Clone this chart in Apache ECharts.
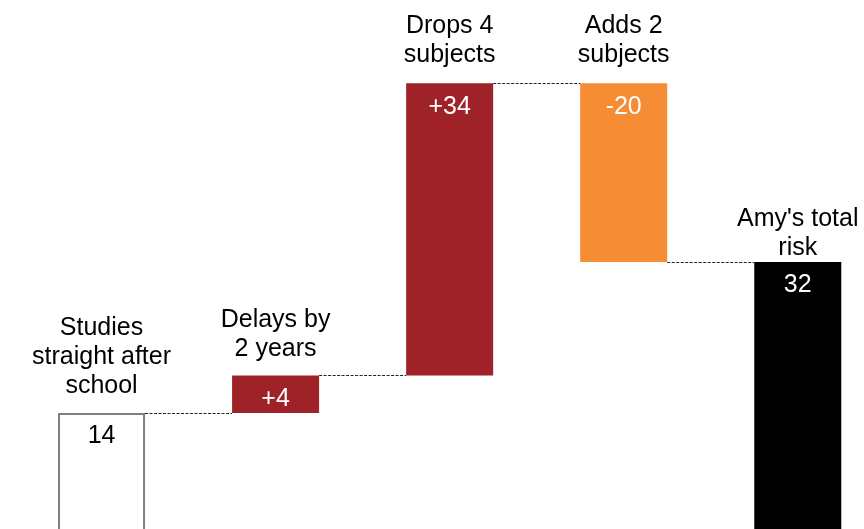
<!DOCTYPE html>
<html>
<head>
<meta charset="utf-8">
<script src="https://cdn.jsdelivr.net/npm/echarts@6/dist/echarts.min.js"></script>
<style>html,body{margin:0;padding:0;background:#fff;}#c{width:864px;height:529px;}</style>
</head>
<body>
<div id="c"></div>
<script>
// Data
const categories = ['Studies\nstraight after\nschool', 'Delays by\n2 years', 'Drops 4\nsubjects', 'Adds 2\nsubjects', "Amy's total\nrisk"];
const startValue = 14.4;
const changes = [4.3, 33.5, -20.5];
const totalValue = 31.7;
const valueLabels = ['14', '+4', '+34', '-20', '32'];
const barColors = ['#ffffff', '#9e2227', '#9e2227', '#f68c34', '#000000'];
const labelColors = ['#000000', '#ffffff', '#ffffff', '#ffffff', '#ffffff'];

// Build waterfall base/height from the values
const levels = [startValue];
changes.forEach(c => levels.push(levels[levels.length - 1] + c));
const bases = [0];
const heights = [startValue];
for (let i = 0; i < changes.length; i++) {
  const a = levels[i], b = levels[i + 1];
  bases.push(Math.min(a, b));
  heights.push(Math.abs(b - a));
}
bases.push(0);
heights.push(totalValue);
const connectorData = levels.map((v, i) => [i, v]);
const tops = heights.map((h, i) => bases[i] + h);

const FONT = '"Liberation Sans", Arial, sans-serif';
const BAR_RATIO = 0.5;
const captionDistance = [12, 12, 14, 14, -1];

const chart = echarts.init(document.getElementById('c'), null, {renderer: 'canvas'});
chart.setOption({
  animation: false,
  grid: {left: 14.5, top: 15.3, width: 870.3, height: 523.2, containLabel: false, outerBoundsMode: 'none'},
  xAxis: {type: 'category', data: categories, show: false},
  yAxis: {type: 'value', min: 0, max: 60, show: false},
  series: [
    {
      type: 'bar', stack: 'w', barWidth: '50%', silent: true,
      itemStyle: {color: 'transparent'},
      data: bases
    },
    {
      type: 'bar', stack: 'w', barWidth: '50%',
      data: heights.map((h, i) => ({
        value: h,
        itemStyle: i === 0
          ? {color: barColors[i], borderColor: '#7f7f7f', borderWidth: 2}
          : {color: barColors[i]},
        label: {color: labelColors[i]}
      })),
      label: {
        show: true, position: 'insideTop', distance: 11,
        fontFamily: FONT, fontSize: 25,
        formatter: p => valueLabels[p.dataIndex]
      }
    },
    {
      // category captions above bars
      type: 'scatter', silent: true, symbolSize: 0.01,
      itemStyle: {color: 'transparent', opacity: 1},
      emphasis: {disabled: true},
      data: tops.map((t, i) => ({
        value: [i, t],
        label: {distance: captionDistance[i]}
      })),
      label: {
        show: true, position: 'top', opacity: 1,
        fontFamily: FONT, fontSize: 25, lineHeight: 29, color: '#000000',
        align: 'center',
        formatter: p => categories[p.dataIndex]
      },
      z: 1
    },
    {
      type: 'custom', silent: true,
      data: connectorData,
      renderItem: function (params, api) {
        const p = api.coord([api.value(0), api.value(1)]);
        const w = api.size([1, 0])[0];
        const bw = w * BAR_RATIO;
        const y = Math.round(p[1]) + 0.5;
        return {
          type: 'line',
          shape: {x1: p[0] + bw / 2, y1: y, x2: p[0] + w - bw / 2, y2: y},
          style: {stroke: '#222', lineWidth: 1, lineDash: [3, 1.5]}
        };
      },
      z: 5
    }
  ]
});
</script>
</body>
</html>
